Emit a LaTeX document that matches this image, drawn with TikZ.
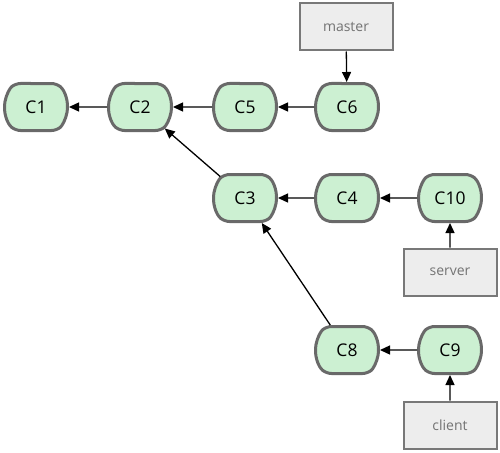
\documentclass[tikz,border=0pt]{standalone}
\usepackage{fontspec}
\setmainfont{Open Sans}
\usetikzlibrary{shapes.misc,arrows.meta}
\definecolor{commitfill}{RGB}{204,240,210}
\definecolor{commitline}{RGB}{105,105,105}
\definecolor{branchfill}{RGB}{237,237,237}
\definecolor{branchline}{RGB}{120,120,120}
\definecolor{branchtext}{RGB}{115,115,115}

\begin{document}
\begin{tikzpicture}[x=1pt,y=-1pt,
    commit/.style={rounded rectangle, rounded rectangle arc length=100,
        rounded corners=5pt, draw=commitline, fill=commitfill, line width=3pt,
        minimum width=63pt, minimum height=47pt, inner sep=0pt,
        font=\fontsize{17.5}{20}\selectfont},
    branch/.style={rectangle, draw=branchline, fill=branchfill, line width=2pt,
        minimum width=93pt, minimum height=47pt, inner sep=0pt,
        text=branchtext, font=\fontsize{14}{16}\selectfont},
    parent/.style={-{Triangle[length=10pt,width=9pt]}, line width=1.3pt}]
    \useasboundingbox (0,0) rectangle (500,452);
    \node[commit] (c1) at (36,107) {C1};
    \node[commit] (c2) at (140,107) {C2};
    \node[commit] (c5) at (245,107) {C5};
    \node[commit] (c6) at (347,107) {C6};
    \node[commit] (c3) at (245,198) {C3};
    \node[commit] (c4) at (347,198) {C4};
    \node[commit] (c10) at (450,198) {C10};
    \node[commit] (c8) at (347,350) {C8};
    \node[commit] (c9) at (450,350) {C9};
    \node[branch] (master) at (346,27) {master};
    \node[branch] (server) at (450,272) {server};
    \node[branch] (client) at (450,425) {client};
    \draw[parent] (c2) -- (c1);
    \draw[parent] (c5) -- (c2);
    \draw[parent] (c6) -- (c5);
    \draw[parent] (c3) -- (c2);
    \draw[parent] (c4) -- (c3);
    \draw[parent] (c10) -- (c4);
    \draw[parent] (c8) -- (c3);
    \draw[parent] (c9) -- (c8);
    \draw[parent] (master) -- (c6);
    \draw[parent] (server) -- (c10);
    \draw[parent] (client) -- (c9);
\end{tikzpicture}
\end{document}
